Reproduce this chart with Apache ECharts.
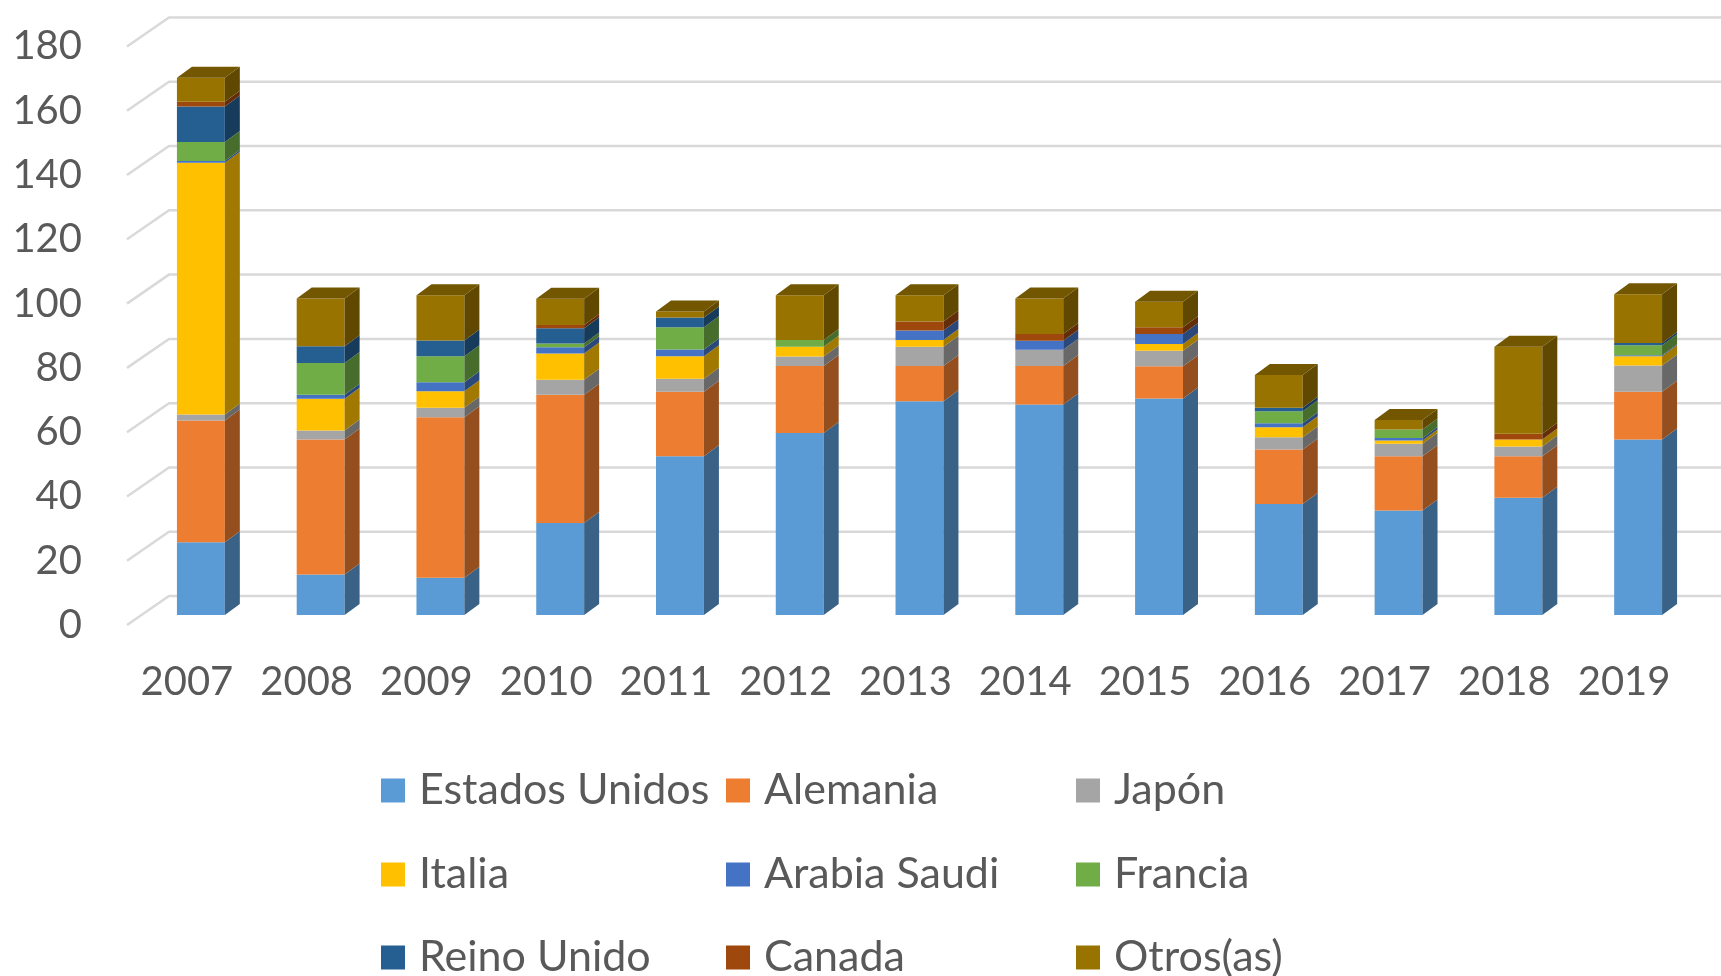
<!DOCTYPE html>
<html>
<head>
<meta charset="utf-8">
<script src="https://cdn.jsdelivr.net/npm/echarts@6/dist/echarts.min.js"></script>
<style>
  html, body { margin: 0; padding: 0; background: #fff; }
  #chart { width: 1721px; height: 976px; }
</style>
</head>
<body>
<div id="chart"></div>
<script>
// datos
var years = ['2007', '2008', '2009', '2010', '2011', '2012', '2013', '2014', '2015', '2016', '2017', '2018', '2019'];
var yTicks = [0, 20, 40, 60, 80, 100, 120, 140, 160, 180];

var estadosUnidos = [22.6, 12.6, 11.6, 28.6, 49.4, 56.6, 66.5, 65.5, 67.4, 34.5, 32.5, 36.5, 54.6];
var alemania      = [37.9, 42.0, 49.9, 39.9, 20.1, 20.9, 11.0, 12.0, 10.0, 17.0, 16.9, 12.9, 14.9];
var japon         = [1.9, 2.8, 3.0, 4.7, 4.0, 2.9, 6.0, 5.0, 4.8, 3.8, 3.9, 3.0, 8.1];
var italia        = [78.3, 9.9, 5.1, 8.2, 7.0, 3.1, 2.1, 0, 2.1, 3.1, 1.0, 2.2, 2.9];
var arabiaSaudi   = [0.6, 1.2, 2.8, 1.9, 2.1, 0, 2.9, 2.8, 3.1, 1.3, 0.8, 0, 0.3];
var francia       = [5.9, 9.9, 8.1, 1.2, 6.9, 2.1, 0, 0, 0, 3.7, 2.6, 0, 3.1];
var reinoUnido    = [11.0, 5.2, 4.9, 4.7, 3.1, 0, 0, 0, 0, 1.1, 0, 0, 0.7];
var canada        = [1.5, 0, 0, 1.0, 0, 0, 2.8, 2.1, 2.1, 0, 0, 1.8, 0];
var otros         = [7.5, 14.9, 14.1, 8.2, 1.8, 13.9, 8.2, 11.1, 8.0, 10.2, 3.0, 27.1, 15.2];

var paises = ['Estados Unidos', 'Alemania', 'Japón', 'Italia', 'Arabia Saudi', 'Francia', 'Reino Unido', 'Canada', 'Otros(as)'];
var valores = [estadosUnidos, alemania, japon, italia, arabiaSaudi, francia, reinoUnido, canada, otros];
var colores = ['#5B9BD5', '#ED7D31', '#A5A5A5', '#FFC000', '#4472C4', '#70AD47', '#255E91', '#9E480E', '#997300'];

// geometría del efecto 3D (px)
var WALL_DX = 42, WALL_DY = 29;   // pared del fondo
var BAR_DX = 14, BAR_DY = 10;     // cara frontal de la barra
var DEPTH_X = 15, DEPTH_Y = 11;   // profundidad de la barra
var FONT = 'Lato, "Noto Sans", sans-serif';
var TXT = '#595959';

function shade(hex, k) {
  var n = parseInt(hex.slice(1), 16);
  var r = Math.round(((n >> 16) & 255) * k);
  var g = Math.round(((n >> 8) & 255) * k);
  var b = Math.round((n & 255) * k);
  return 'rgb(' + r + ',' + g + ',' + b + ')';
}

// índice de la serie más alta (no nula) de cada año
var topIdx = years.map(function (y, i) {
  var t = 0;
  valores.forEach(function (arr, s) { if (arr[i] > 0) t = s; });
  return t;
});

var acum = years.map(function () { return 0; });

function makeBarRenderer(color) {
  var side = shade(color, 0.63);
  var top = shade(color, 0.75);
  return function (params, api) {
    var val = api.value(2);
    if (!val) return null;
    var cat = api.value(0), base = api.value(1);
    var pb = api.coord([cat, base]);
    var pt = api.coord([cat, base + val]);
    var bw = api.size([1, 0])[0] * 0.4;
    var x0 = pb[0] - bw / 2 + BAR_DX, x1 = x0 + bw;
    var yb = pb[1] - BAR_DY, yt = pt[1] - BAR_DY;
    var children = [
      { type: 'polygon', shape: { points: [[x0, yt], [x1, yt], [x1, yb], [x0, yb]] }, style: { fill: color } },
      { type: 'polygon', shape: { points: [[x1, yt], [x1 + DEPTH_X, yt - DEPTH_Y], [x1 + DEPTH_X, yb - DEPTH_Y], [x1, yb]] }, style: { fill: side } }
    ];
    if (api.value(3)) {
      children.push({ type: 'polygon', shape: { points: [[x0, yt], [x0 + DEPTH_X, yt - DEPTH_Y], [x1 + DEPTH_X, yt - DEPTH_Y], [x1, yt]] }, style: { fill: top } });
    }
    return { type: 'group', children: children };
  };
}

var series = [{
  name: 'grid',
  type: 'custom',
  z: 1,
  silent: true,
  data: yTicks.map(function (v) { return [0, v]; }),
  renderItem: function (params, api) {
    var cs = params.coordSys;
    var y = api.coord([0, api.value(1)])[1];
    return {
      type: 'polyline',
      shape: { points: [[cs.x, y], [cs.x + WALL_DX, y - WALL_DY], [cs.x + cs.width + WALL_DX + 10, y - WALL_DY]] },
      style: { stroke: '#d9d9d9', lineWidth: 2.5, fill: null }
    };
  }
}];

paises.forEach(function (p, s) {
  var data = years.map(function (y, i) {
    var d = [i, acum[i], valores[s][i], topIdx[i] === s ? 1 : 0];
    acum[i] += valores[s][i];
    return d;
  });
  series.push({
    name: p,
    type: 'custom',
    z: 2,
    itemStyle: { color: colores[s] },
    encode: { x: 0, y: 1 },
    data: data,
    renderItem: makeBarRenderer(colores[s])
  });
});

// leyenda en 3 columnas x 3 filas
var legendLeft = [381, 726, 1076];
var legendTop = [769, 853, 936];

var option = {
  animation: false,
  textStyle: { fontFamily: FONT },
  grid: { left: 127, right: 37, top: 46.5, bottom: 351 },
  xAxis: {
    type: 'category',
    data: years,
    axisLine: { show: false },
    axisTick: { show: false },
    axisLabel: { color: TXT, fontSize: 40, fontFamily: FONT, margin: 37, interval: 0 }
  },
  yAxis: {
    type: 'value',
    min: 0,
    max: 180,
    interval: 20,
    axisLine: { show: false },
    axisTick: { show: false },
    splitLine: { show: false },
    axisLabel: { color: TXT, fontSize: 40, fontFamily: FONT, margin: 45 }
  },
  legend: paises.map(function (p, k) {
    return {
      left: legendLeft[k % 3],
      top: legendTop[Math.floor(k / 3)],
      padding: 0,
      icon: 'rect',
      itemWidth: 24,
      itemHeight: 24,
      data: [p],
      textStyle: { color: TXT, fontSize: 43, fontFamily: FONT, padding: [0, 0, 0, 9] }
    };
  }),
  series: series
};

var chart = echarts.init(document.getElementById('chart'));
chart.setOption(option);
</script>
</body>
</html>
